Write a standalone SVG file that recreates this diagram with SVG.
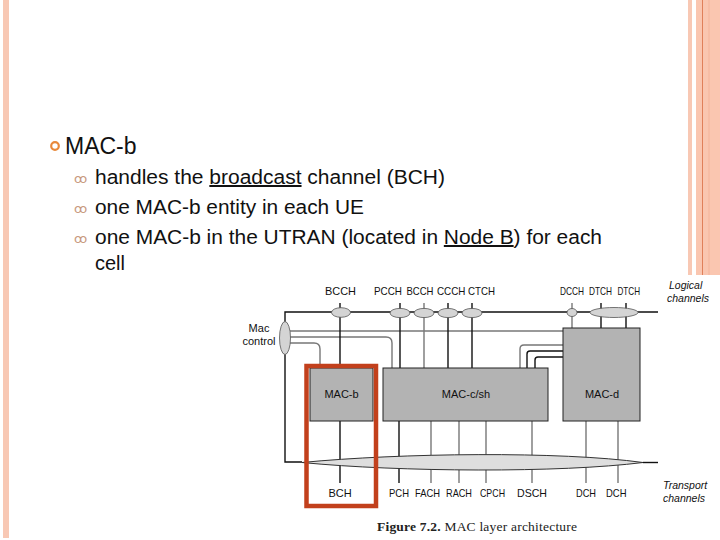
<svg xmlns="http://www.w3.org/2000/svg" width="720" height="540" viewBox="0 0 720 540">
<style>
.slide{font-family:"Liberation Sans",Arial,sans-serif;fill:#111}
.lbl{font-family:"Liberation Sans",Arial,sans-serif;font-size:11px;fill:#111}
.it{font-family:"Liberation Sans",Arial,sans-serif;font-size:10.5px;font-style:italic;fill:#111}
.box{fill:#b3b3b3;stroke:#222;stroke-width:1}
.blk{stroke:#111;stroke-width:1.4;fill:none}
.gry{stroke:#777;stroke-width:1.4;fill:none}
.ell{fill:#d4d4d4;stroke:#555;stroke-width:0.8}
.bul{font-family:"DejaVu Sans",sans-serif;font-size:13px;fill:#c89a80}
</style>
<rect width="720" height="540" fill="#fff"/>
<!-- slide borders -->
<rect x="3" y="0" width="6" height="538" fill="#f8c8b4"/>
<rect x="688" y="0" width="4" height="275" fill="#f8c8b4"/>
<rect x="696" y="0" width="24" height="275" fill="#fac6b0"/>
<line x1="702.5" y1="0" x2="702.5" y2="275" stroke="#e0805a" stroke-width="1"/>
<line x1="709" y1="0" x2="709" y2="275" stroke="#f4b49a" stroke-width="1"/>

<!-- slide text -->
<g id="bullets">
<circle cx="55" cy="146" r="3.8" fill="none" stroke="#e8883a" stroke-width="2.2"/>
<text class="slide" x="65" y="154" font-size="23">MAC-b</text>
<text class="bul" x="74" y="183">ꝏ</text>
<text class="slide" x="95" y="184" font-size="20" textLength="350" lengthAdjust="spacingAndGlyphs">handles the <tspan text-decoration="underline">broadcast</tspan> channel (BCH)</text>
<text class="bul" x="74" y="213">ꝏ</text>
<text class="slide" x="95" y="214" font-size="20" textLength="269" lengthAdjust="spacingAndGlyphs">one MAC-b entity in each UE</text>
<text class="bul" x="74" y="243">ꝏ</text>
<text class="slide" x="95" y="244" font-size="20" textLength="507" lengthAdjust="spacingAndGlyphs">one MAC-b in the UTRAN (located in <tspan text-decoration="underline">Node B</tspan>) for each</text>
<text class="slide" x="95" y="270" font-size="20">cell</text>
</g>

<!-- diagram background -->
<rect x="240" y="276" width="480" height="264" fill="#fff"/>

<g id="connectors">
<!-- logical channel line -->
<polyline class="blk" points="658,312 285,312 285,462 302,462" stroke-width="1.1"/>
<!-- mac control lines -->
<line class="gry" x1="290" y1="331" x2="563" y2="331" stroke="#999"/>
<path class="gry" d="M290,337 H386 Q392,337 392,343 V368"/>
<path class="gry" d="M290,343 H314 Q320,343 320,349 V368"/>
<!-- MAC-c/sh to MAC-d -->
<path class="gry" d="M563,345 H524 Q520,345 520,349 V368"/>
<path class="blk" d="M563,351 H530 Q527,351 527,354 V368" stroke-width="1.2"/>
<path class="blk" d="M563,357 H538 Q535,357 535,360 V368" stroke-width="1.2"/>
<!-- logical channel drops -->
<line class="blk" x1="340" y1="303" x2="340" y2="368"/>
<line class="blk" x1="400" y1="303" x2="400" y2="368"/>
<line class="gry" x1="424" y1="303" x2="424" y2="368" stroke="#555"/>
<line class="blk" x1="448" y1="303" x2="448" y2="368"/>
<line class="blk" x1="472" y1="303" x2="472" y2="368" stroke-width="1.8"/>
<line class="gry" x1="572" y1="303" x2="572" y2="328" stroke="#555"/>
<line class="blk" x1="601" y1="303" x2="601" y2="328" stroke-width="1.2"/>
<line class="blk" x1="626" y1="303" x2="626" y2="328" stroke-width="1.2"/>
<!-- transport drops -->
<line class="blk" x1="340" y1="421" x2="340" y2="483" stroke-width="1.6"/>
<line class="blk" x1="399" y1="421" x2="399" y2="483" stroke-width="1.6"/>
<line class="gry" x1="431" y1="421" x2="431" y2="483" stroke="#444"/>
<line class="gry" x1="459" y1="421" x2="459" y2="483" stroke="#444"/>
<line class="gry" x1="486" y1="421" x2="486" y2="483" stroke="#444"/>
<line class="gry" x1="532" y1="421" x2="532" y2="483" stroke="#333"/>
<line class="gry" x1="586" y1="421" x2="586" y2="483" stroke="#444"/>
<line class="gry" x1="618" y1="421" x2="618" y2="483" stroke="#333"/>
<!-- transport channel spindle -->
<path d="M302,462.5 C400,453 560,451 643,462.5 C560,473 400,472 302,462.5 Z" fill="#dedede" stroke="#333" stroke-width="1"/>
<line class="blk" x1="643" y1="462.5" x2="658" y2="462.5" stroke-width="1.1"/>
<!-- channel ellipses -->
<ellipse class="ell" cx="341" cy="312.5" rx="9.5" ry="4.8"/>
<ellipse class="ell" cx="400" cy="313" rx="10" ry="4.6"/>
<ellipse class="ell" cx="424" cy="313" rx="10" ry="4.6"/>
<ellipse class="ell" cx="448" cy="313" rx="10" ry="4.6"/>
<ellipse class="ell" cx="472" cy="313" rx="10" ry="4.6"/>
<ellipse class="ell" cx="572" cy="312.5" rx="5" ry="4"/>
<ellipse class="ell" cx="614" cy="312.5" rx="24" ry="5"/>
</g>

<g id="mac-control">
<ellipse class="ell" cx="285" cy="338" rx="5.5" ry="16.5"/>
<text class="lbl" x="259" y="332" text-anchor="middle" font-size="10.5">Mac</text>
<text class="lbl" x="259" y="345" text-anchor="middle" font-size="10.5">control</text>
</g>

<g id="mac-b">
<rect class="box" x="310" y="368" width="63" height="53"/>
<text class="lbl" x="341.5" y="398" text-anchor="middle">MAC-b</text>
</g>
<g id="mac-c-sh">
<rect class="box" x="383" y="368" width="165" height="53"/>
<text class="lbl" x="466" y="398" text-anchor="middle">MAC-c/sh</text>
</g>
<g id="mac-d">
<rect class="box" x="563" y="328" width="77" height="93"/>
<text class="lbl" x="602" y="398" text-anchor="middle">MAC-d</text>
</g>

<g id="highlight">
<rect x="306.5" y="366" width="69.5" height="140" fill="none" stroke="#c2401c" stroke-width="4.5"/>
</g>

<g id="labels">
<text class="lbl" x="325" y="295" textLength="31" lengthAdjust="spacingAndGlyphs">BCCH</text>
<text class="lbl" x="374" y="295" textLength="28" lengthAdjust="spacingAndGlyphs">PCCH</text>
<text class="lbl" x="406.5" y="295" textLength="27" lengthAdjust="spacingAndGlyphs">BCCH</text>
<text class="lbl" x="437" y="295" textLength="28.5" lengthAdjust="spacingAndGlyphs">CCCH</text>
<text class="lbl" x="468" y="295" textLength="27" lengthAdjust="spacingAndGlyphs">CTCH</text>
<text class="lbl" x="560" y="295" textLength="24" lengthAdjust="spacingAndGlyphs">DCCH</text>
<text class="lbl" x="589" y="295" textLength="23" lengthAdjust="spacingAndGlyphs">DTCH</text>
<text class="lbl" x="617.5" y="295" textLength="22.5" lengthAdjust="spacingAndGlyphs">DTCH</text>
<text class="it" x="669" y="289">Logical</text>
<text class="it" x="667" y="302">channels</text>
<text class="lbl" x="340" y="497" text-anchor="middle">BCH</text>
<text class="lbl" x="389" y="497" textLength="20" lengthAdjust="spacingAndGlyphs">PCH</text>
<text class="lbl" x="415" y="497" textLength="25" lengthAdjust="spacingAndGlyphs">FACH</text>
<text class="lbl" x="446" y="497" textLength="26" lengthAdjust="spacingAndGlyphs">RACH</text>
<text class="lbl" x="480" y="497" textLength="25" lengthAdjust="spacingAndGlyphs">CPCH</text>
<text class="lbl" x="517" y="497" textLength="30" lengthAdjust="spacingAndGlyphs">DSCH</text>
<text class="lbl" x="576" y="497" textLength="20" lengthAdjust="spacingAndGlyphs">DCH</text>
<text class="lbl" x="606" y="497" textLength="20.5" lengthAdjust="spacingAndGlyphs">DCH</text>
<text class="it" x="663" y="489">Transport</text>
<text class="it" x="663" y="502">channels</text>
<text x="377" y="531" font-family="'Liberation Serif','Times New Roman',serif" font-size="13.5" fill="#222" textLength="200" lengthAdjust="spacing"><tspan font-weight="bold">Figure 7.2.</tspan>  MAC layer architecture</text>
</g>
</svg>
